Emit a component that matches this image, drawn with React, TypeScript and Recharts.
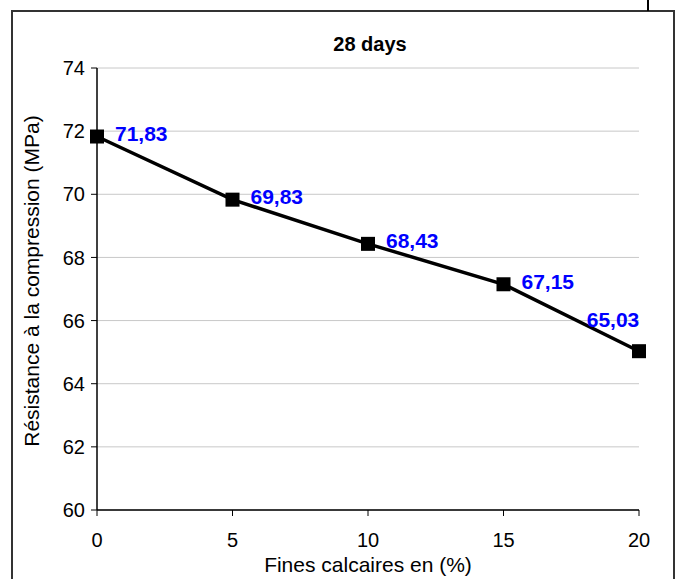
import React from "react";
import {
  LineChart,
  Line,
  XAxis,
  YAxis,
  CartesianGrid,
  LabelList,
  Label,
} from "recharts";

const fines = [0, 5, 10, 15, 20];
const strength = [71.83, 69.83, 68.43, 67.15, 65.03];
const labels = ["71,83", "69,83", "68,43", "67,15", "65,03"];
const xTicks = [0, 5, 10, 15, 20];
const yTicks = [60, 62, 64, 66, 68, 70, 72, 74];

const chartData = fines.map((f, i) => ({ fines: f, value: strength[i], label: labels[i] }));

const FONT = "'Liberation Sans', Arial, sans-serif";

function SquareDot(props: any) {
  const { cx, cy } = props;
  if (cx == null || cy == null) return null;
  return <rect x={cx - 7} y={cy - 7} width={14} height={14} fill="#000" />;
}

function ValueLabel(props: any) {
  const { x, y, value, index } = props;
  const last = index === chartData.length - 1;
  return (
    <text
      x={last ? x - 26 : x + 18}
      y={last ? y - 32 : y - 3}
      fill="#0000FF"
      fontFamily={FONT}
      fontWeight="bold"
      fontSize={21}
      textAnchor={last ? "middle" : "start"}
      dominantBaseline="central"
    >
      {value}
    </text>
  );
}

export default function App() {
  return (
    <div
      style={{
        position: "absolute",
        left: 0,
        top: 0,
        width: 677,
        height: 579,
        overflow: "hidden",
        background: "#fff",
        fontFamily: FONT,
      }}
    >
      {/* outer frame */}
      <div
        style={{
          position: "absolute",
          left: 11,
          top: 10,
          width: 660,
          height: 620,
          border: "2px solid #333",
        }}
      />
      <div style={{ position: "absolute", left: 647, top: 0, width: 2, height: 11, background: "#000" }} />
      <div
        style={{
          position: "absolute",
          left: 0,
          width: 740,
          top: 31,
          lineHeight: "26px",
          textAlign: "center",
          fontWeight: "bold",
          fontSize: 20,
          color: "#000",
        }}
      >
        28 days
      </div>

      <div style={{ position: "absolute", left: 0, top: 0 }}>
        <LineChart
          width={677}
          height={579}
          data={chartData}
          margin={{ top: 68, right: 38, bottom: 0, left: 12 }}
        >
          <CartesianGrid vertical={false} stroke="#C8C8C8" strokeWidth={1} />
          <XAxis
            dataKey="fines"
            type="number"
            domain={[0, 20]}
            ticks={xTicks}
            height={69}
            tickSize={6}
            tickMargin={17}
            axisLine={{ stroke: "#000", strokeWidth: 1.5 }}
            tickLine={{ stroke: "#000" }}
            tick={{ fill: "#000", fontSize: 20, fontFamily: FONT }}
          >
            <Label
              value="Fines calcaires en (%)"
              position="insideBottom"
              offset={7}
              fill="#000"
              fontSize={21}
              fontFamily={FONT}
            />
          </XAxis>
          <XAxis
            xAxisId="top"
            dataKey="fines"
            type="number"
            domain={[0, 20]}
            orientation="top"
            height={0}
            tick={false}
            tickLine={false}
            axisLine={{ stroke: "#808080", strokeWidth: 1.5 }}
          />
          <YAxis
            type="number"
            domain={[60, 74]}
            ticks={yTicks}
            width={85}
            tickSize={6}
            tickMargin={6}
            interval={0}
            axisLine={{ stroke: "#000", strokeWidth: 1.5 }}
            tickLine={{ stroke: "#000" }}
            tick={{ fill: "#000", fontSize: 20, fontFamily: FONT }}
          >
            <Label
              content={(p: any) => {
                const vb = p.viewBox || {};
                const cx = (vb.x ?? 12) + 19;
                const cy = (vb.y ?? 68) + (vb.height ?? 442) / 2 - 8;
                return (
                  <text
                    x={cx}
                    y={cy}
                    transform={`rotate(-90, ${cx}, ${cy})`}
                    textAnchor="middle"
                    dominantBaseline="central"
                    fill="#000"
                    fontSize={21}
                    fontFamily={FONT}
                  >
                    Résistance à la compression (MPa)
                  </text>
                );
              }}
            />
          </YAxis>
          <YAxis
            yAxisId="right"
            orientation="right"
            type="number"
            domain={[60, 74]}
            width={0}
            tick={false}
            tickLine={false}
            axisLine={{ stroke: "#808080", strokeWidth: 1.5 }}
          />
          <Line
            dataKey="value"
            stroke="#000"
            strokeWidth={3.5}
            dot={<SquareDot />}
            activeDot={false}
            isAnimationActive={false}
          >
            <LabelList dataKey="label" content={<ValueLabel />} />
          </Line>
        </LineChart>
      </div>
    </div>
  );
}
